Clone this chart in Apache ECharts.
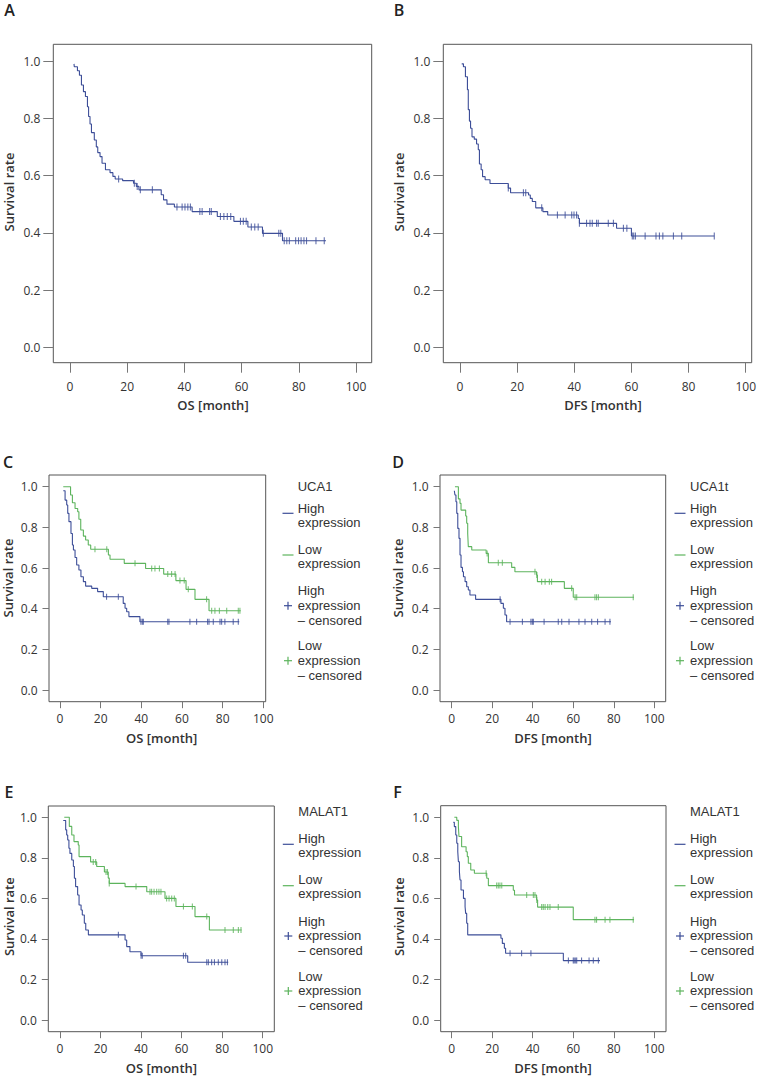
<!DOCTYPE html>
<html><head><meta charset="utf-8">
<script src="https://cdn.jsdelivr.net/npm/echarts@6/dist/echarts.min.js"></script>
<style>html,body{margin:0;padding:0;background:#fff}#c{width:762px;height:1077px}</style>
</head><body><div id="c"></div>
<script>
// ---------- tick labels ----------
const xTicks = [0, 20, 40, 60, 80, 100];
const yTicks = [0, 0.2, 0.4, 0.6, 0.8, 1.0];

// ---------- Panel A: OS (all patients) ----------
const aSteps = [[1.4,0.99],[1.5,0.98],[2.6,0.966],[3.3,0.95],[4.0,0.916],[4.7,0.893],[5.4,0.876],[6.1,0.84],[6.5,0.806],[7.0,0.78],[7.5,0.75],[8.5,0.724],[9.2,0.70],[9.7,0.68],[10.5,0.666],[11.2,0.643],[12.4,0.62],[14.0,0.61],[15.0,0.597],[15.8,0.588],[18.4,0.582],[22.2,0.573],[23.2,0.562],[24.1,0.55],[31.9,0.533],[32.7,0.515],[33.9,0.50],[36.5,0.49],[42.7,0.474],[51.5,0.457],[57.3,0.44],[62.2,0.42],[67.3,0.398],[74.3,0.372],[89.5,0.372]];
const aCens = [[17.0,0.588],[22.5,0.573],[23.5,0.562],[24.6,0.55],[28.8,0.55],[37.4,0.49],[39.2,0.49],[40.2,0.49],[41.2,0.49],[42.1,0.49],[45.4,0.474],[46.2,0.474],[48.8,0.474],[49.4,0.474],[52.6,0.457],[53.8,0.457],[55.0,0.457],[56.2,0.457],[59.6,0.44],[60.6,0.44],[61.6,0.44],[63.4,0.42],[64.6,0.42],[65.8,0.42],[67.6,0.398],[73.0,0.398],[73.7,0.398],[74.9,0.372],[75.8,0.372],[76.7,0.372],[78.9,0.372],[79.9,0.372],[80.8,0.372],[81.8,0.372],[82.7,0.372],[86.0,0.372],[88.9,0.372]];

// ---------- Panel B: DFS (all patients) ----------
const bSteps = [[0.6,0.99],[1.2,0.98],[1.9,0.945],[2.6,0.90],[2.9,0.83],[3.3,0.79],[3.7,0.765],[4.2,0.735],[5.0,0.727],[5.8,0.71],[6.4,0.69],[6.8,0.64],[7.4,0.62],[7.9,0.596],[8.8,0.585],[10.5,0.572],[16.9,0.556],[17.7,0.54],[24.0,0.532],[24.6,0.52],[25.3,0.509],[26.5,0.487],[29.0,0.474],[30.7,0.462],[41.4,0.45],[41.8,0.433],[54.8,0.416],[60.0,0.389],[89.0,0.389]];
const bCens = [[16.9,0.556],[22.2,0.54],[23.0,0.54],[28.6,0.487],[34.1,0.462],[36.8,0.462],[39.1,0.462],[39.9,0.462],[40.8,0.462],[41.8,0.433],[44.3,0.433],[45.5,0.433],[46.3,0.433],[47.8,0.433],[48.4,0.433],[51.9,0.433],[53.7,0.433],[57.2,0.416],[58.4,0.416],[60.3,0.389],[60.8,0.389],[61.4,0.389],[64.8,0.389],[68.6,0.389],[69.8,0.389],[71.0,0.389],[74.7,0.389],[77.6,0.389],[89.0,0.389]];

// ---------- Panel C: UCA1, OS ----------
const cHighSteps = [[1.6,0.98],[2.5,0.934],[3.3,0.91],[3.8,0.869],[4.4,0.828],[5.4,0.77],[6.1,0.713],[6.6,0.689],[7.4,0.652],[8.2,0.615],[9.3,0.59],[10.3,0.557],[11.5,0.533],[12.6,0.511],[15.6,0.50],[18.5,0.484],[21.3,0.459],[31.1,0.426],[32.0,0.402],[32.8,0.385],[33.9,0.361],[39.3,0.336],[88.2,0.336]];
const cHighCens = [[22.9,0.459],[28.7,0.459],[39.8,0.336],[40.5,0.336],[41.0,0.336],[53.0,0.336],[53.6,0.336],[63.9,0.336],[67.2,0.336],[72.6,0.336],[73.3,0.336],[75.4,0.336],[78.7,0.336],[79.5,0.336],[81.1,0.336],[85.2,0.336],[87.7,0.336]];
const cLowSteps = [[1.6,1.0],[5.2,0.959],[6.1,0.921],[7.4,0.893],[8.7,0.877],[9.3,0.84],[10.2,0.787],[11.5,0.757],[12.6,0.738],[13.9,0.713],[15.1,0.692],[23.8,0.664],[24.6,0.643],[31.6,0.623],[42.1,0.598],[51.0,0.57],[57.0,0.538],[62.0,0.495],[66.4,0.446],[73.3,0.39],[88.9,0.39]];
const cLowCens = [[17.2,0.692],[23.0,0.692],[36.9,0.623],[45.1,0.598],[46.7,0.598],[48.9,0.598],[53.0,0.57],[54.9,0.57],[56.6,0.57],[59.0,0.538],[61.1,0.538],[63.1,0.495],[72.1,0.446],[74.6,0.39],[76.2,0.39],[78.4,0.39],[82.0,0.39],[87.7,0.39],[88.5,0.39]];

// ---------- Panel D: UCA1t, DFS ----------
const dHighSteps = [[1.3,0.98],[1.6,0.959],[2.1,0.926],[2.5,0.869],[3.0,0.795],[3.6,0.746],[4.1,0.664],[4.6,0.603],[5.3,0.582],[5.8,0.557],[6.6,0.533],[7.4,0.508],[8.2,0.492],[9.0,0.467],[11.8,0.446],[24.3,0.426],[25.5,0.402],[26.3,0.369],[27.1,0.336],[78.6,0.336]];
const dHighCens = [[23.9,0.446],[28.8,0.336],[34.9,0.336],[39.1,0.336],[39.8,0.336],[40.3,0.336],[45.6,0.336],[52.6,0.336],[54.3,0.336],[57.9,0.336],[62.8,0.336],[65.8,0.336],[69.1,0.336],[72.0,0.336],[75.7,0.336],[78.1,0.336]];
const dLowSteps = [[1.6,1.0],[3.3,0.94],[4.1,0.918],[4.6,0.885],[6.9,0.856],[7.4,0.82],[7.9,0.77],[8.2,0.705],[9.9,0.689],[17.0,0.672],[18.1,0.626],[29.6,0.603],[31.2,0.582],[41.9,0.566],[42.3,0.533],[55.6,0.5],[60.0,0.456],[90.0,0.456]];
const dLowCens = [[17.5,0.672],[23.0,0.626],[25.0,0.626],[41.1,0.582],[42.0,0.566],[44.4,0.533],[46.1,0.533],[48.2,0.533],[49.3,0.533],[59.2,0.5],[60.9,0.456],[61.7,0.456],[70.7,0.456],[71.5,0.456],[72.4,0.456],[89.6,0.456]];

// ---------- Panel E: MALAT1, OS ----------
const eHighSteps = [[1.6,0.984],[2.8,0.938],[3.3,0.913],[3.8,0.888],[4.4,0.847],[4.9,0.822],[5.8,0.789],[6.6,0.757],[7.1,0.699],[7.7,0.658],[8.7,0.617],[9.4,0.567],[10.4,0.543],[11.0,0.518],[12.0,0.477],[12.7,0.444],[14.0,0.42],[32.1,0.395],[32.9,0.362],[34.5,0.337],[40.0,0.317],[63.0,0.285],[83.0,0.285]];
const eHighCens = [[28.8,0.42],[40.0,0.317],[40.6,0.317],[60.9,0.317],[62.0,0.317],[72.4,0.285],[73.2,0.285],[74.8,0.285],[76.2,0.285],[78.1,0.285],[79.8,0.285],[81.4,0.285],[82.6,0.285]];
const eLowSteps = [[2.1,1.0],[4.6,0.955],[5.8,0.913],[6.9,0.88],[9.0,0.863],[9.4,0.806],[15.1,0.78],[18.1,0.757],[21.9,0.73],[23.8,0.70],[24.3,0.674],[32.1,0.658],[42.8,0.633],[51.8,0.6],[57.2,0.56],[66.6,0.51],[73.7,0.444],[89.6,0.444]];
const eLowCens = [[16.4,0.78],[17.6,0.78],[22.7,0.73],[23.4,0.73],[24.3,0.674],[37.5,0.658],[44.4,0.633],[45.2,0.633],[46.4,0.633],[47.7,0.633],[48.8,0.633],[49.8,0.633],[52.6,0.6],[53.8,0.6],[55.1,0.6],[56.4,0.6],[60.9,0.56],[65.3,0.56],[72.4,0.51],[81.4,0.444],[85.5,0.444],[88.0,0.444],[89.3,0.444]];

// ---------- Panel F: MALAT1, DFS ----------
const fHighSteps = [[0.8,0.975],[1.3,0.954],[2.0,0.913],[2.5,0.872],[3.0,0.83],[3.3,0.781],[3.8,0.732],[4.1,0.691],[4.6,0.641],[5.8,0.6],[6.6,0.559],[6.9,0.526],[7.4,0.477],[7.9,0.42],[24.3,0.403],[25.0,0.378],[26.0,0.354],[26.6,0.329],[55.1,0.293],[73.2,0.293]];
const fHighCens = [[28.8,0.329],[34.5,0.329],[39.1,0.329],[57.6,0.293],[60.0,0.293],[60.5,0.293],[61.2,0.293],[61.7,0.293],[64.1,0.293],[67.8,0.293],[69.9,0.293],[72.4,0.293]];
const fLowSteps = [[1.3,1.0],[2.5,0.985],[3.3,0.954],[3.6,0.905],[4.9,0.855],[7.1,0.83],[7.7,0.806],[8.2,0.773],[9.4,0.74],[11.2,0.724],[17.3,0.699],[18.1,0.663],[30.4,0.64],[31.0,0.617],[41.9,0.592],[42.4,0.557],[60.0,0.495],[90.0,0.495]];
const fLowCens = [[17.0,0.724],[22.2,0.663],[23.0,0.663],[23.8,0.663],[24.7,0.663],[37.0,0.617],[40.3,0.617],[41.1,0.617],[42.0,0.592],[44.4,0.557],[45.2,0.557],[46.1,0.557],[47.4,0.557],[48.5,0.557],[52.6,0.557],[70.7,0.495],[71.5,0.495],[75.7,0.495],[78.1,0.495],[89.6,0.495]];

// ---------- text ----------
const panelLetters = ['A','B','C','D','E','F'];
const xTitles = ['OS [month]','DFS [month]','OS [month]','DFS [month]','OS [month]','DFS [month]'];
const yTitle = 'Survival rate';
const legendTitles = ['UCA1','UCA1t','MALAT1','MALAT1'];
const legendItems = ['High\nexpression','Low\nexpression','High\nexpression\n\u2013 censored','Low\nexpression\n\u2013 censored'];

// ---------- styling / layout ----------
const BLUE = '#3d4e98', GREEN = '#5db45d';
const FONT = "'Open Sans','Noto Sans',sans-serif";
const LEG_FONT = "'Liberation Sans',Arial,sans-serif";
const TXT = '#333';
const LH = 14.7;
const LEG_FS = 13;

const layout = [
  {box:[53.3,44.3,371.7,362.7], x0:70,    x100:356,   y0:347.3, y1:61,    big:true,  letter:[9.5,10],   yt:[9,192],     xt:[213,405]},
  {box:[443.3,44.3,751.7,362.7],x0:460,   x100:745.7, y0:347.3, y1:61,    big:true,  letter:[399,10],   yt:[399,192],   xt:[602.9,405]},
  {box:[49,475,265.7,701.7],    x0:60,    x100:263.3, y0:690,   y1:486.7, big:false, letter:[8,461.5],  yt:[7.5,578],   xt:[161.7,738.3],
     leg:{tx:297.7, icx:288, title:486.7, rows:[508,549,590.7,645.7], icons:[513.3,555,605.7,660.7]}},
  {box:[440,475,665.7,701.7],   x0:451.7, x100:654.3, y0:690,   y1:486.7, big:false, letter:[398,461.5],yt:[397.5,578], xt:[553,738.3],
     leg:{tx:690, icx:680, title:486.7, rows:[508,549,590.7,645.7], icons:[513.3,555,605.7,660.7]}},
  {box:[48.3,806,274.3,1031.7], x0:60,    x100:262.7, y0:1020,  y1:817.3, big:false, letter:[9,791.5],  yt:[8.5,916.7], xt:[161.4,1068.3],
     leg:{tx:298.3, icx:288.3, title:811.7, rows:[838.3,879.3,921,976], icons:[844.3,885.7,936,991]}},
  {box:[440.7,805.7,666,1031.7],x0:451.7, x100:654.3, y0:1020,  y1:817.3, big:false, letter:[397.5,791.7],yt:[399,916.7],xt:[553,1068.3],
     leg:{tx:690, icx:680, title:811.7, rows:[838.3,879.3,921,976], icons:[844.3,885.7,936,991]}}
];

const panelSeries = [
  [[aSteps,aCens,BLUE]],
  [[bSteps,bCens,BLUE]],
  [[cHighSteps,cHighCens,BLUE],[cLowSteps,cLowCens,GREEN]],
  [[dHighSteps,dHighCens,BLUE],[dLowSteps,dLowCens,GREEN]],
  [[eHighSteps,eHighCens,BLUE],[eLowSteps,eLowCens,GREEN]],
  [[fHighSteps,fHighCens,BLUE],[fLowSteps,fLowCens,GREEN]]
];

const grids = [], xAxes = [], yAxes = [], series = [], graphics = [];

function text(x, y, s, size, weight, opt) {
  opt = opt || {};
  const align = opt.align || 'center';
  const va = opt.va || 'middle';
  const st = {text:s, font: weight + ' ' + size + 'px ' + (opt.family || FONT), fill: opt.fill || TXT,
      align:align, textAlign:align, verticalAlign:va, textVerticalAlign:va};
  if (opt.lh) st.lineHeight = opt.lh;
  return {type:'text', x:x, y:y, rotation:opt.rotation || 0, silent:true, style:st};
}

layout.forEach((L, i) => {
  const [l,t,r,b] = L.box;
  const kx = (L.x100 - L.x0) / 100, ky = (L.y0 - L.y1);
  grids.push({left:l, top:t, width:r-l, height:b-t, show:true, borderColor:'#555', borderWidth:1,
    backgroundColor:'transparent', containLabel:false, outerBoundsMode:'none'});
  const tickLen = L.big ? 10 : 6.5;
  xAxes.push({type:'value', gridIndex:i, position:'bottom', min:(l-L.x0)/kx, max:(r-L.x0)/kx,
    axisLine:{show:false, onZero:false}, splitLine:{show:false},
    axisTick:{show:true, inside:false, length:tickLen, customValues:xTicks, lineStyle:{color:'#777', width:1}},
    axisLabel:{show:true, customValues:xTicks, margin: L.big ? 18 : 11, fontSize:12, fontFamily:FONT, color:TXT}});
  yAxes.push({type:'value', gridIndex:i, position:'left', min:(L.y0-b)/ky, max:(L.y0-t)/ky,
    axisLine:{show:false, onZero:false}, splitLine:{show:false},
    axisTick:{show:true, inside:false, length:tickLen, customValues:yTicks, lineStyle:{color:'#777', width:1}},
    axisLabel:{show:true, customValues:yTicks, margin: L.big ? 13 : 11.5, fontSize:12, fontFamily:FONT, color:TXT,
      formatter: v => Number(v).toFixed(1)}});
  panelSeries[i].forEach(([steps, cens, color]) => {
    series.push({type:'line', xAxisIndex:i, yAxisIndex:i, data:steps, step:'end', symbol:'none',
      lineStyle:{color:color, width:1.1}, silent:true, animation:false});
    series.push({type:'scatter', xAxisIndex:i, yAxisIndex:i, data:cens, symbol:'rect',
      symbolSize: L.big ? [1.1,7] : [1.1,6], itemStyle:{color:color}, silent:true, animation:false});
  });
  graphics.push(text(L.letter[0], L.letter[1], panelLetters[i], 16, 600, {fill:'#222'}));
  graphics.push(text(L.yt[0], L.yt[1], yTitle, 13, 600, {rotation:Math.PI/2}));
  graphics.push(text(L.xt[0], L.xt[1], xTitles[i], 13, 600));
  if (L.leg) {
    const g = L.leg;
    graphics.push(text(g.tx, g.title, legendTitles[i-2], LEG_FS, 400, {align:'left', family:LEG_FONT}));
    legendItems.forEach((s, k) => {
      graphics.push(text(g.tx, g.rows[k] - LH/2, s, LEG_FS, 400, {align:'left', va:'top', lh:LH, family:LEG_FONT}));
      const color = (k % 2 === 0) ? BLUE : GREEN;
      const iy = g.icons[k];
      if (k < 2) {
        graphics.push({type:'line', silent:true, shape:{x1:g.icx-5.5, y1:iy, x2:g.icx+5.5, y2:iy}, style:{stroke:color, lineWidth:1.2}});
      } else {
        graphics.push({type:'line', silent:true, shape:{x1:g.icx-4, y1:iy, x2:g.icx+4, y2:iy}, style:{stroke:color, lineWidth:1.2}});
        graphics.push({type:'line', silent:true, shape:{x1:g.icx, y1:iy-4, x2:g.icx, y2:iy+4}, style:{stroke:color, lineWidth:1.2}});
      }
    });
  }
});

const chart = echarts.init(document.getElementById('c'), null, {renderer:'svg', width:762, height:1077});
chart.setOption({
  animation:false,
  backgroundColor:'#fff',
  grid:grids, xAxis:xAxes, yAxis:yAxes, series:series, graphic:graphics
});
</script>
</body></html>
